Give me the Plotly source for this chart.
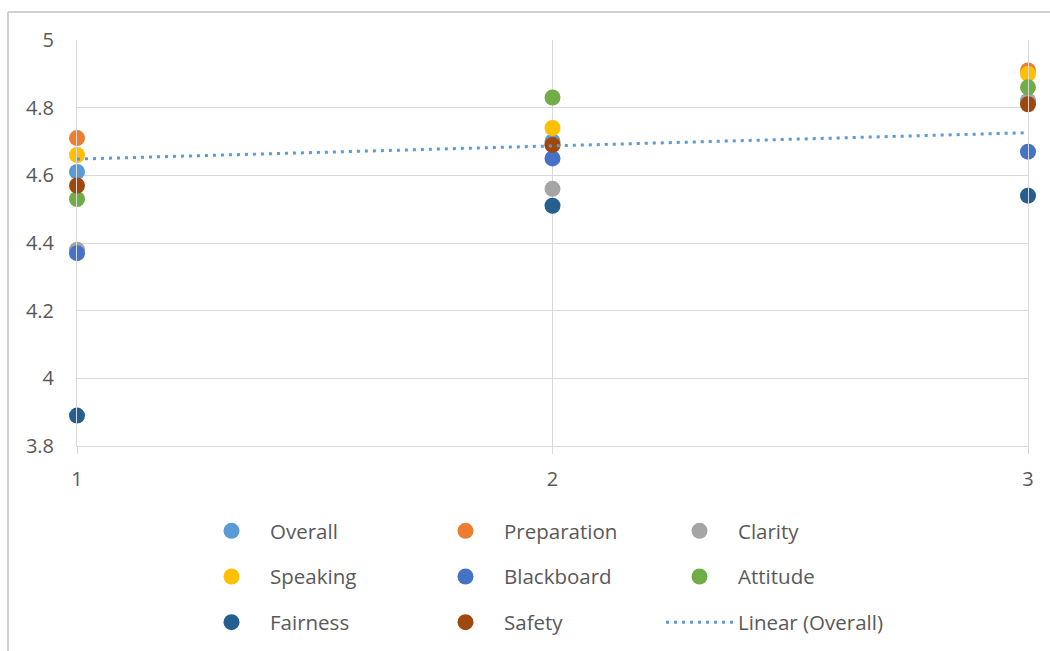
import plotly.graph_objects as go

# Survey round on the x axis
rounds = [1, 2, 3]

# Mean score of each evaluation item per round
overall = [4.61, 4.70, 4.82]
preparation = [4.71, 4.69, 4.91]
clarity = [4.38, 4.56, 4.82]
speaking = [4.66, 4.74, 4.90]
blackboard = [4.37, 4.65, 4.67]
attitude = [4.53, 4.83, 4.86]
fairness = [3.89, 4.51, 4.54]
safety = [4.57, 4.69, 4.81]

# Linear trend of the Overall score, at rounds 1 and 3
trend_x = [1, 3]
trend_overall = [4.648, 4.726]

y_ticks = [3.8, 4.0, 4.2, 4.4, 4.6, 4.8, 5.0]

W, H = 1050, 651
L, R, T, B = 77, 22, 40, 205
PW, PH = W - L - R, H - T - B

FONT = "Open Sans"
TXT = "#595959"
GRID = "#d9d9d9"

series = [
    ("Overall", overall, "#5B9BD5", "legend"),
    ("Preparation", preparation, "#ED7D31", "legend2"),
    ("Clarity", clarity, "#A5A5A5", "legend3"),
    ("Speaking", speaking, "#FFC000", "legend"),
    ("Blackboard", blackboard, "#4472C4", "legend2"),
    ("Attitude", attitude, "#70AD47", "legend3"),
    ("Fairness", fairness, "#255E91", "legend"),
    ("Safety", safety, "#9E480E", "legend2"),
]

fig = go.Figure()
for i, (name, vals, color, lg) in enumerate(series):
    fig.add_trace(go.Scatter(
        x=rounds, y=vals, name=name, mode="markers",
        marker=dict(size=16, color=color),
        legend=lg, legendgroup=name, legendrank=i,
        cliponaxis=False,
    ))

fig.add_trace(go.Scatter(
    x=trend_x, y=trend_overall, name="Linear (Overall)", mode="lines",
    line=dict(color="#5B9BD5", width=3, dash="3px,5px"),
    legend="legend3", legendgroup="trend", legendrank=99,
))


def px_x(p):
    return (p - L) / PW


def px_y(p):
    return 1 - (p - T) / PH


legend_common = dict(
    orientation="v", yanchor="top", xanchor="left",
    font=dict(family=FONT, size=20.5, color=TXT),
    tracegroupgap=16, itemwidth=67, bgcolor="rgba(0,0,0,0)",
)

fig.update_layout(
    width=W, height=H,
    margin=dict(l=L, r=R, t=T, b=B, autoexpand=False),
    paper_bgcolor="white", plot_bgcolor="white",
    font=dict(family=FONT, size=20, color=TXT),
    showlegend=True,
    legend=dict(x=px_x(193), y=px_y(511), **legend_common),
    legend2=dict(x=px_x(427), y=px_y(511), **legend_common),
    legend3=dict(x=px_x(661), y=px_y(511), **legend_common),
    xaxis=dict(
        range=[1, 3], tickvals=rounds, showgrid=True, gridcolor=GRID, gridwidth=1,
        zeroline=False, showline=True, linecolor=GRID, linewidth=1,
        ticks="outside", ticklen=7, tickcolor=GRID, ticklabelstandoff=8,
        tickfont=dict(family=FONT, size=20, color=TXT),
    ),
    yaxis=dict(
        range=[3.8, 5.0], tickvals=y_ticks, showgrid=True, gridcolor=GRID, gridwidth=1,
        zeroline=False, showline=True, linecolor=GRID, linewidth=1, mirror=True,
        ticks="", ticklabelstandoff=18,
        tickfont=dict(family=FONT, size=20, color=TXT),
    ),
    shapes=[
        dict(type="line", xref="paper", yref="paper",
             x0=px_x(8), x1=px_x(1050), y0=px_y(12), y1=px_y(12),
             line=dict(color="#d0d0d0", width=2)),
        dict(type="line", xref="paper", yref="paper",
             x0=px_x(8), x1=px_x(8), y0=px_y(12), y1=px_y(651),
             line=dict(color="#d0d0d0", width=2)),
    ],
)

fig.write_html("out.html")
